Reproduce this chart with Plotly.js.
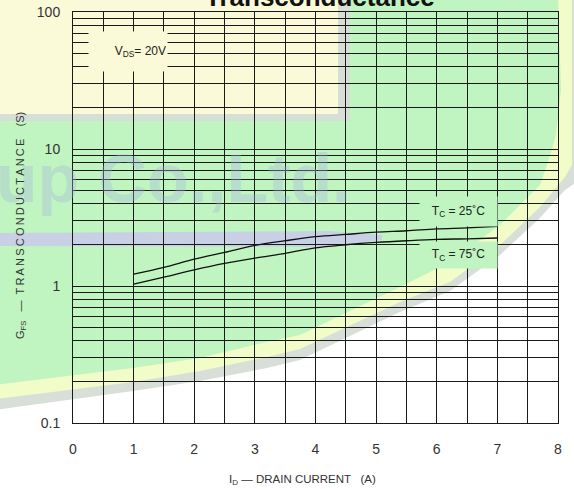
<!DOCTYPE html>
<html>
<head>
<meta charset="utf-8">
<script src="https://cdn.plot.ly/plotly-3.0.1.min.js"></script>
<style>html,body{margin:0;padding:0;background:#fff;}#chart{width:574px;height:489px;}</style>
</head>
<body>
<div id="chart"></div>
<script>
// ---- data ----
const drainCurrent = [1, 1.5, 2, 2.5, 3, 3.5, 4, 4.5, 5, 5.5, 6, 6.5, 7];
const gfs25C = [1.22, 1.37, 1.57, 1.76, 1.98, 2.14, 2.29, 2.38, 2.47, 2.53, 2.61, 2.66, 2.73];
const gfs75C = [1.03, 1.16, 1.31, 1.46, 1.60, 1.73, 1.90, 2.00, 2.08, 2.14, 2.19, 2.21, 2.24];
const xTickVals = [0, 1, 2, 3, 4, 5, 6, 7, 8];
const yTickVals = [0.1, 1, 10, 100];
const yTickText = ['0.1', '1', '10', '100'];
const yMinorVals = [0.2,0.3,0.4,0.5,0.6,0.7,0.8,0.9,2,3,4,5,6,7,8,9,20,30,40,50,60,70,80,90];

// ---- layout helpers (page geometry, not data) ----
const W = 574, H = 489, ML = 73, MR = 16, MT = 12, MB = 66;
const PW = W - ML - MR, PH = H - MT - MB;
const px = v => ((v - ML) / PW).toFixed(4);
const py = v => ((H - MB - v) / PH).toFixed(4);
function poly(pts) {
  return 'M' + pts.map(p => px(p[0]) + ',' + py(p[1])).join(' L') + ' Z';
}
const greyPts = [[-5,-5],[580,-5],[580,180],[565,190],[540,218],[500,255],[450,291],[400,312],[300,360],[267,368],[200,381],[133,391],[-5,410]];
const yellowPts = [[-5,-5],[572,-5],[572,165],[565,177],[540,207],[500,245],[450,282],[400,302],[300,349],[267,357],[200,371],[133,382],[-5,399]];
const greenPts = [[-5,-5],[558,-5],[561,90],[556,135],[548,162],[540,185],[500,225],[450,262],[400,287],[300,335],[267,342],[200,358],[133,368],[-5,385]];
const creamShadowPts = [[-5,-5],[350,-5],[350,121],[-5,121]];
const creamPts = [[-5,-5],[338,-5],[338,114],[-5,114]];
const bandPts = [[-5,233],[330,231],[382,235],[382,240],[330,247],[-5,246]];

const gridCol = '#1a1a1a';
const shapes = [
  {type:'path', xref:'paper', yref:'paper', layer:'below', path: poly(greyPts), fillcolor:'#d8dfd8', line:{width:0}},
  {type:'path', xref:'paper', yref:'paper', layer:'below', path: poly(yellowPts), fillcolor:'#f2fcc8', line:{width:0}},
  {type:'path', xref:'paper', yref:'paper', layer:'below', path: poly(greenPts), fillcolor:'#c0f4c0', line:{width:0}},
  {type:'path', xref:'paper', yref:'paper', layer:'below', path: poly(creamShadowPts), fillcolor:'#d6dfd6', line:{width:0}},
  {type:'path', xref:'paper', yref:'paper', layer:'below', path: poly(creamPts), fillcolor:'#fbfad8', line:{width:0}},
  {type:'path', xref:'paper', yref:'paper', layer:'below', path: poly(bandPts), fillcolor:'#c8d0e6', line:{width:0}}
];

const traces = [
  {x: drainCurrent, y: gfs25C, type:'scatter', mode:'lines', name:'TC = 25°C',
   line:{color:'#111', width:1.3, shape:'spline'}, hoverinfo:'skip'},
  {x: drainCurrent, y: gfs75C, type:'scatter', mode:'lines', name:'TC = 75°C',
   line:{color:'#111', width:1.3, shape:'spline'}, hoverinfo:'skip'}
];

const lblFont = {family:'Liberation Sans, Arial, sans-serif', size:12, color:'#222'};
const annotations = [
  // watermark text
  {xref:'paper', yref:'paper', x: px(-6), y: py(178), xanchor:'left', yanchor:'middle', showarrow:false,
   text:'<b>up Co.,Ltd.</b>', font:{family:'Liberation Sans, Arial, sans-serif', size:68, color:'rgba(160,180,225,0.33)'}},
  // chart title (mostly cut off at top)
  {xref:'paper', yref:'paper', x: px(320), y: py(-3.5), xanchor:'center', yanchor:'middle', showarrow:false,
   text:'<b>Transconductance</b>', font:{family:'Liberation Sans, Arial, sans-serif', size:26, color:'#111'}},
  // in-plot labels
  {xref:'x', yref:'y', x: (128 - ML) / (PW / 8), y: (286 - 51.5) / 137.1, showarrow:false,
   width:76, height:37, align:'right', bgcolor:'#fbfad8',
   text:'V<sub>DS</sub>= 20V', font:lblFont},
  {xref:'x', yref:'y', x: (458.5 - ML) / (PW / 8), y: (286 - 211) / 137.1, showarrow:false,
   width:75, height:27, bgcolor:'#c0f4c0',
   text:'T<sub>C</sub> = 25˚C', font:lblFont},
  {xref:'x', yref:'y', x: (458.5 - ML) / (PW / 8), y: (286 - 255) / 137.1, showarrow:false,
   width:75, height:24, bgcolor:'#c0f4c0',
   text:'T<sub>C</sub> = 75˚C', font:lblFont},
  // axis titles
  {xref:'paper', yref:'paper', x: px(303), y: py(480), xanchor:'center', yanchor:'middle', showarrow:false,
   text:'I<sub>D</sub> — DRAIN CURRENT   (A)', font:{family:'Liberation Sans, Arial, sans-serif', size:11.5, color:'#333'}},
  {xref:'paper', yref:'paper', x: px(21), y: py(226), xanchor:'center', yanchor:'middle', showarrow:false, textangle:-90,
   text:'G<sub>FS</sub>   —  T\u2009R\u2009A\u2009N\u2009S\u2009C\u2009O\u2009N\u2009D\u2009U\u2009C\u2009T\u2009A\u2009N\u2009C\u2009E    (S)',
   font:{family:'Liberation Sans, Arial, sans-serif', size:11, color:'#333'}}
];

const layout = {
  width: W, height: H,
  margin: {l: ML, r: MR, t: MT, b: MB, pad: 0},
  paper_bgcolor: '#ffffff',
  plot_bgcolor: 'rgba(0,0,0,0)',
  showlegend: false,
  font: {family: 'Liberation Sans, Arial, sans-serif', color: '#333'},
  xaxis: {
    range: [0, 8], tickmode: 'array', tickvals: xTickVals,
    showgrid: true, gridcolor: gridCol, gridwidth: 1,
    minor: {dtick: 0.5, showgrid: true, gridcolor: gridCol, gridwidth: 1},
    showline: true, linecolor: gridCol, linewidth: 1, mirror: true,
    zeroline: false, ticks: 'outside', ticklen: 13, tickcolor: 'rgba(0,0,0,0)',
    tickfont: {size: 14, color: '#333'}, fixedrange: true
  },
  yaxis: {
    type: 'log', range: [-1, 2], tickmode: 'array', tickvals: yTickVals, ticktext: yTickText,
    showgrid: true, gridcolor: gridCol, gridwidth: 1,
    minor: {tickmode: 'array', tickvals: yMinorVals, showgrid: true, gridcolor: gridCol, gridwidth: 1},
    showline: true, linecolor: gridCol, linewidth: 1, mirror: true,
    zeroline: false, ticks: 'outside', ticklen: 9, tickcolor: 'rgba(0,0,0,0)',
    tickfont: {size: 14, color: '#333'}, fixedrange: true
  },
  shapes: shapes,
  annotations: annotations
};

Plotly.newPlot('chart', traces, layout, {staticPlot: true, displayModeBar: false});
</script>
</body>
</html>
